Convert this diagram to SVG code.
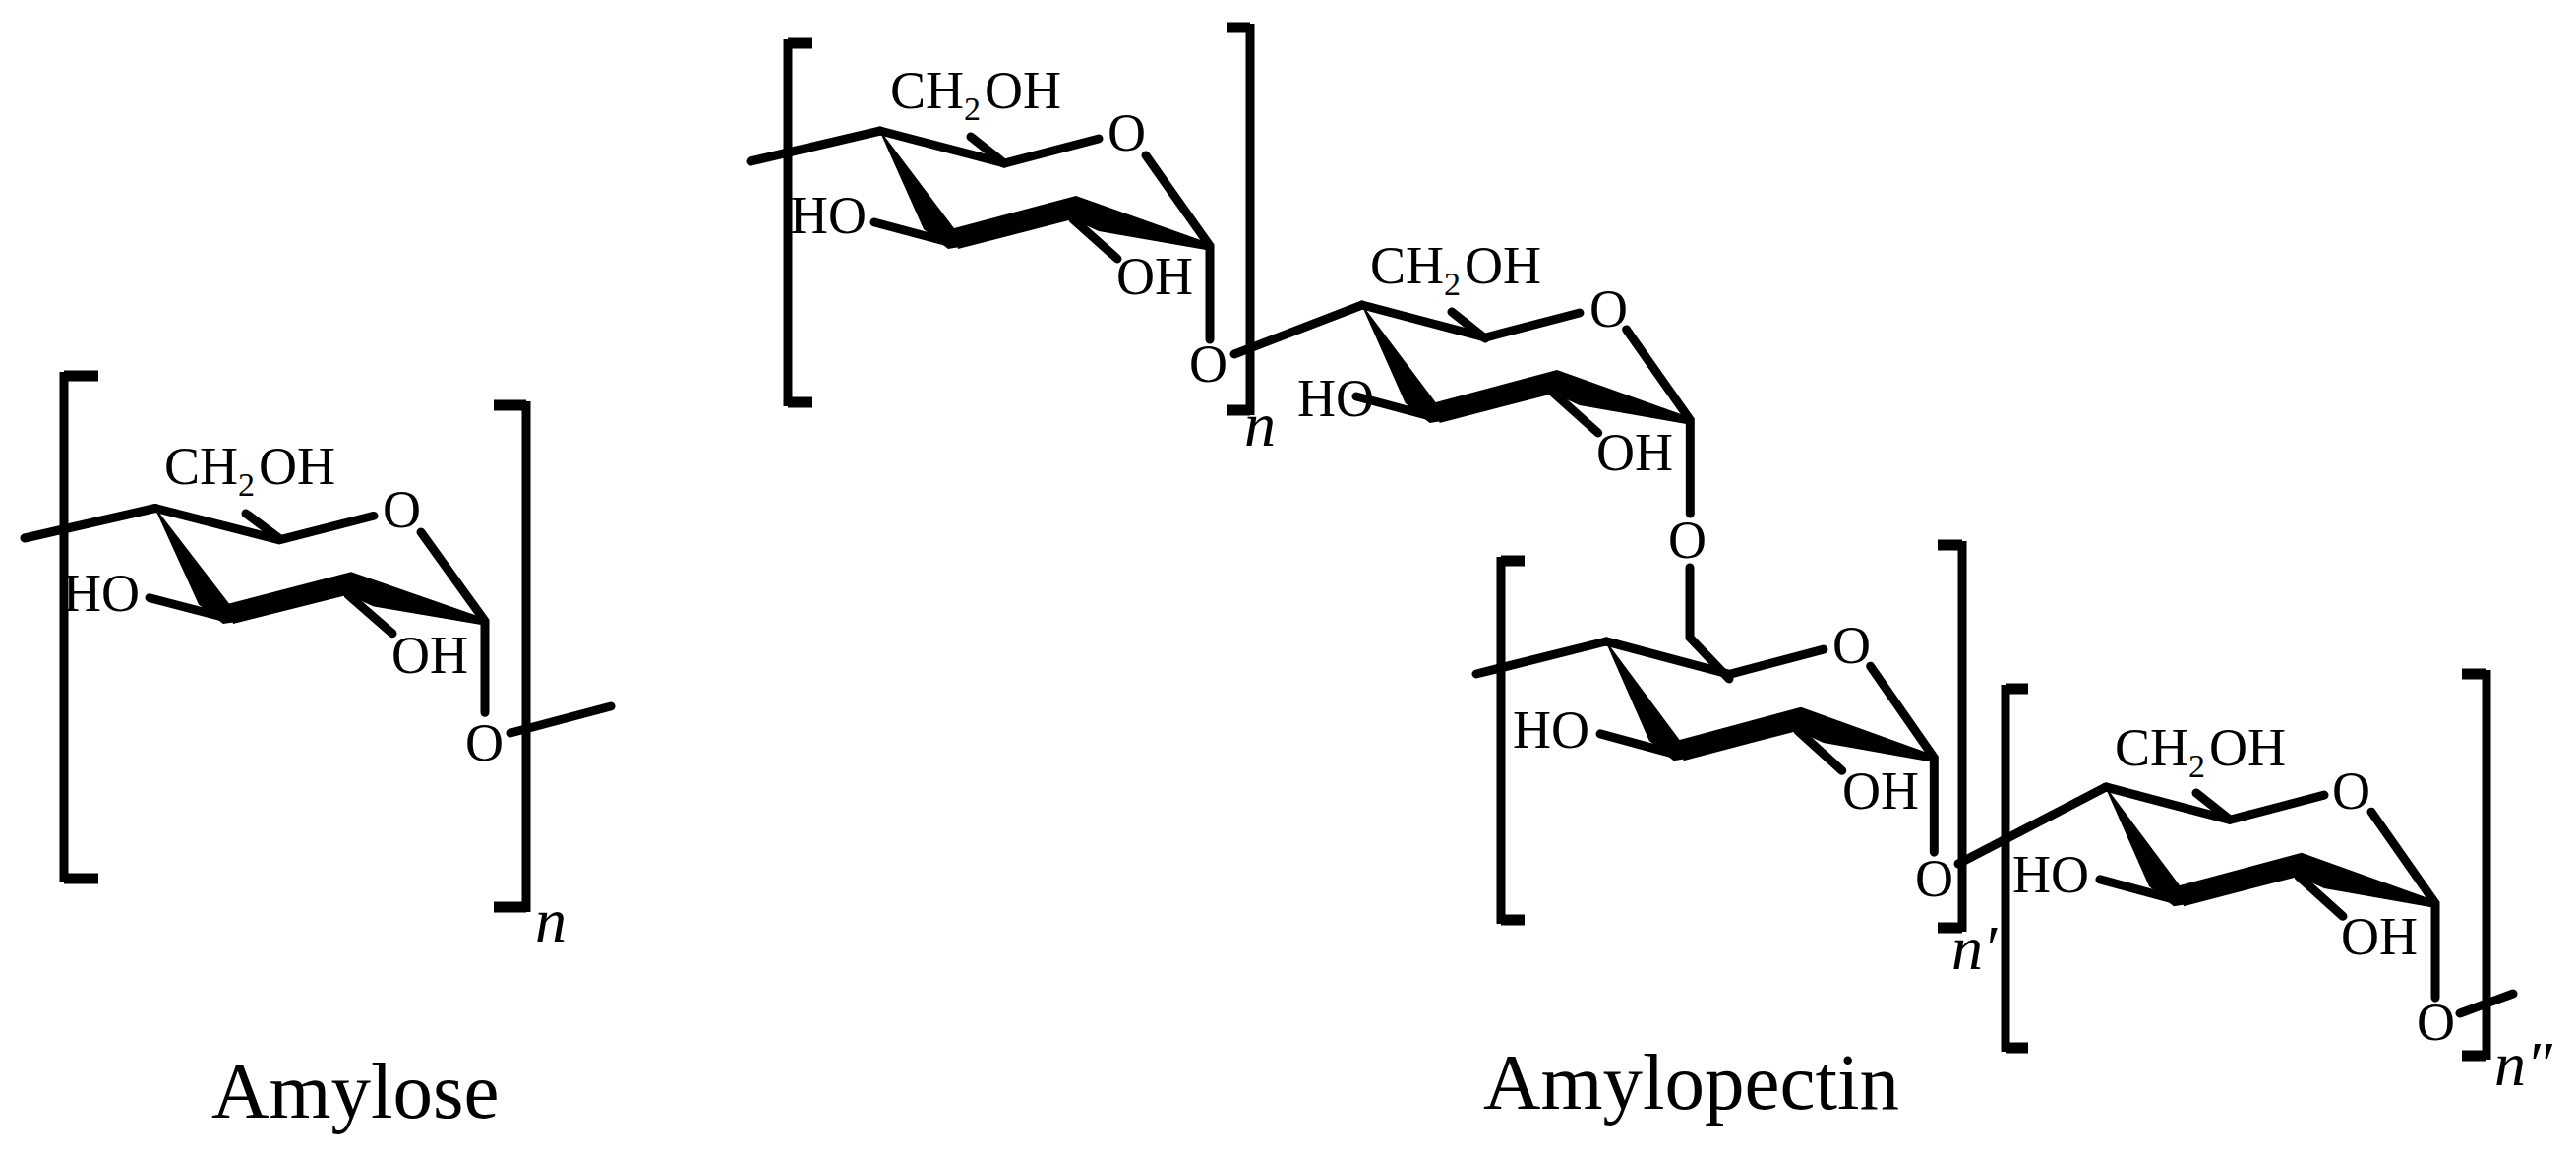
<svg xmlns="http://www.w3.org/2000/svg" width="2619" height="1175" viewBox="0 0 2619 1175">
<style>
text{font-family:"Liberation Serif","Times New Roman",serif;fill:#000}
.t{font-size:54px}
.s{font-size:34px}
.i{font-size:64px;font-style:italic}
.c{font-size:81px}
.b{fill:none;stroke:#000;stroke-width:9;stroke-linecap:round;stroke-linejoin:miter}
.k{fill:none;stroke:#000;stroke-width:9}
.h{fill:none;stroke:#000;stroke-width:11}
</style>
<defs>
<g id="ring">
<path class="b" d="M0 0L126 33L222 8M270 25L335 117V212M-6 93L69 113M196 90L241 130"/>
<path d="M-2 -3L75 99L81 118 69 120 44 100ZM75 99L199 66L195.5 90L79 120ZM199 66L337 115L331 121L222 102L195.5 90Z"/>
</g>
</defs>
<rect width="2619" height="1175" fill="#fff"/>
<g id="amylose-unit">
<path class="k" d="M65 378V897M535 408V927"/>
<path class="h" d="M65 382H100M65 893H100M535 412H502M535 922H502"/>
<use href="#ring" transform="translate(158 516.5) scale(1 .98)"/>
<path class="b" d="M25 547L158 516.5M250 522L285 548M519 745L621 718"/>
<text class="t" x="167" y="492">CH<tspan class="s" dy="12">2</tspan><tspan dy="-12" dx="4">OH</tspan></text>
<text class="t" x="64" y="621">HO</text>
<text class="t" x="398" y="684">OH</text>
<text class="t" x="389" y="536">O</text>
<text class="t" x="473" y="773">O</text>
<text class="i" x="544" y="957">n</text>
</g>
<g id="amylopectin-unit-1">
<path class="k" d="M801 40V413M1271 24V422"/>
<path class="h" d="M801 44H826M801 409H826M1271 28H1247M1271 417H1247"/>
<use href="#ring" transform="translate(895 133)"/>
<path class="b" d="M763 164L895 133M987 139L1021 166"/>
<text class="t" x="905" y="110">CH<tspan class="s" dy="12">2</tspan><tspan dy="-12" dx="4">OH</tspan></text>
<text class="t" x="803" y="237">HO</text>
<text class="t" x="1135" y="299">OH</text>
<text class="t" x="1126" y="153">O</text>
<text class="t" x="1209" y="388">O</text>
<text class="i" x="1265" y="453">n</text>
</g>
<g id="amylopectin-unit-2">
<use href="#ring" transform="translate(1385 310) scale(.995 1)"/>
<path class="b" d="M1255 360L1385 310M1476 317L1510 344"/>
<text class="t" x="1393" y="288">CH<tspan class="s" dy="12">2</tspan><tspan dy="-12" dx="4">OH</tspan></text>
<text class="t" x="1319" y="423">HO</text>
<text class="t" x="1623" y="478">OH</text>
<text class="t" x="1616" y="332">O</text>
<text class="t" x="1696" y="567">O</text>
</g>
<g id="amylopectin-unit-3">
<path class="k" d="M1526 566V939M1995 550V947"/>
<path class="h" d="M1526 570H1550M1526 935H1550M1995 554H1970M1995 943H1970"/>
<use href="#ring" transform="translate(1633 652) scale(.995 1.01)"/>
<path class="b" d="M1501 685L1633 652"/>
<text class="t" x="1538" y="760">HO</text>
<text class="t" x="1873" y="822">OH</text>
<text class="t" x="1863" y="674">O</text>
<text class="t" x="1947" y="911">O</text>
<text class="i" x="1984" y="985">n′</text>
</g>
<g id="amylopectin-unit-4">
<path class="k" d="M2039 696V1069M2528 681V1077"/>
<path class="h" d="M2039 700H2062M2039 1065H2062M2528 685H2503M2528 1073H2503"/>
<use href="#ring" transform="translate(2141 800) scale(1 1.01)"/>
<path class="b" d="M1991 878L2141 800M2233 806L2267 833M2501 1030L2555 1010"/>
<text class="t" x="2150" y="778">CH<tspan class="s" dy="12">2</tspan><tspan dy="-12" dx="4">OH</tspan></text>
<text class="t" x="2046" y="907">HO</text>
<text class="t" x="2380" y="970">OH</text>
<text class="t" x="2371" y="822">O</text>
<text class="t" x="2457" y="1057">O</text>
<text class="i" x="2536" y="1103">n″</text>
</g>
<g id="connectors">
<path class="b" d="M1718 577V648L1758 690"/>
</g>
<text class="c" x="215" y="1136">Amylose</text>
<text class="c" x="1508" y="1127">Amylopectin</text>
</svg>
